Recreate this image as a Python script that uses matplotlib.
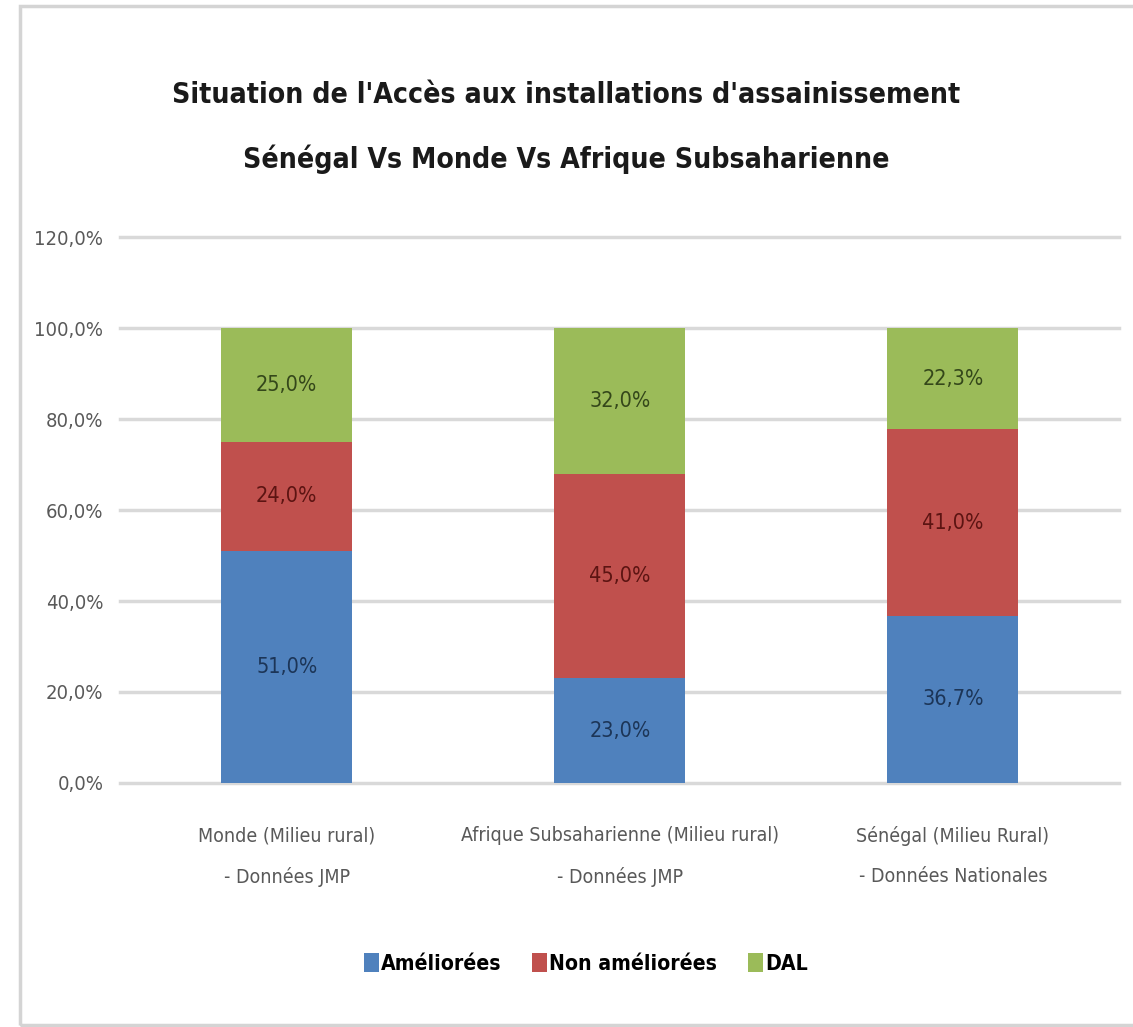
import matplotlib.pyplot as plt
from matplotlib.patches import Rectangle

# Data
categories = ["Monde (Milieu rural)\n- Données JMP",
              "Afrique Subsaharienne (Milieu rural)\n- Données JMP",
              "Sénégal (Milieu Rural)\n- Données Nationales"]
ameliorees = [51.0, 23.0, 36.7]
non_ameliorees = [24.0, 45.0, 41.0]
dal = [25.0, 32.0, 22.3]
series_names = ["Améliorées", "Non améliorées", "DAL"]
y_ticks = [0, 20, 40, 60, 80, 100, 120]

colors = ["#4F81BD", "#C0504D", "#9BBB59"]
label_colors = ["#1C3557", "#5C1412", "#34471A"]

plt.rcParams['font.family'] = ['DejaVu Sans']
plt.rcParams['font.stretch'] = 'condensed'

fig = plt.figure(figsize=(11.33, 10.27), dpi=100)
ax = fig.add_axes([0.106, 0.2376, 0.882, 0.5316])

# light frame round the picture
fig.patches.append(Rectangle((20 / 1133, 2 / 1027), 1.2, 1 - 8 / 1027,
                             transform=fig.transFigure, fill=False,
                             edgecolor="#d4d4d4", linewidth=2.5))

x = list(range(len(categories)))
bottom = [0.0] * len(categories)
for vals, name, col, lcol in zip([ameliorees, non_ameliorees, dal],
                                 series_names, colors, label_colors):
    bars = ax.bar(x, vals, width=0.393, bottom=bottom, color=col,
                  label=name, zorder=3)
    labels = [f"{v:.1f}%".replace(".", ",") for v in vals]
    ax.bar_label(bars, labels=labels, label_type='center', color=lcol,
                 fontsize=15.5)
    bottom = [b + v for b, v in zip(bottom, vals)]

ax.set_xlim(-0.5, 2.5)
ax.set_ylim(0, 120)
ax.set_yticks(y_ticks)
ax.set_yticklabels([f"{t:.1f}%".replace(".", ",") for t in y_ticks])
ax.set_xticks(x)
ax.set_xticklabels(categories, linespacing=2.4)
ax.tick_params(axis='y', length=0, pad=12, labelsize=14.5, labelcolor="#595959")
ax.tick_params(axis='x', length=0, pad=31, labelsize=14, labelcolor="#595959")
ax.grid(axis='y', color="#d9d9d9", linewidth=2.5, zorder=0)
for gl in ax.yaxis.get_gridlines():
    gl.set_clip_on(False)
for s in ax.spines.values():
    s.set_visible(False)

fig.text(0.5, 0.876, "Situation de l'Accès aux installations d'assainissement\n"
         "Sénégal Vs Monde Vs Afrique Subsaharienne",
         ha='center', va='center', fontsize=20.3, fontweight='bold',
         color="#1a1a1a", linespacing=2.5)

fig.legend(loc='center', bbox_to_anchor=(0.517, 0.062), ncol=3, frameon=False,
           handlelength=0.72, handleheight=1.05, handletextpad=0.1,
           columnspacing=1.45, prop={'weight': 'bold', 'size': 15.2,
                                     'stretch': 'condensed'})

fig.savefig("out.png", dpi=100, facecolor="white")
